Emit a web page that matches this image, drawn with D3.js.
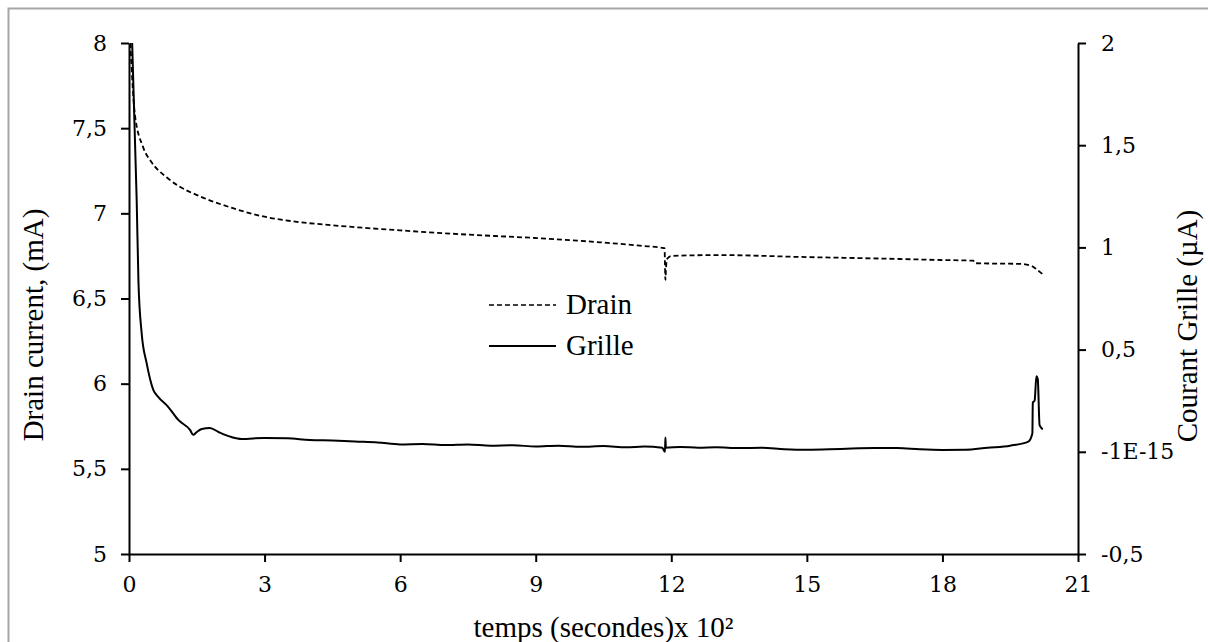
<!DOCTYPE html>
<html><head><meta charset="utf-8">
<script src="https://cdn.jsdelivr.net/npm/d3@7"></script>
<style>body{margin:0;background:#fff}svg{display:block}</style>
</head><body>
<svg id="c" width="1208" height="642"></svg>
<script>
// ---- data ----
const xTicks = [0, 3, 6, 9, 12, 15, 18, 21];
const leftTicks = [5, 5.5, 6, 6.5, 7, 7.5, 8];
const leftTickLabels = ["5", "5,5", "6", "6,5", "7", "7,5", "8"];
const rightTicks = [-0.5, 0, 0.5, 1, 1.5, 2];
const rightTickLabels = ["-0,5", "-1E-15", "0,5", "1", "1,5", "2"];

// Drain current (mA), left axis: [time x10^2 s, value]
const drainT = [0.03, 0.13, 0.31, 0.5, 0.84, 1.1, 1.57, 2.3, 3.0, 3.72, 4.5, 6.0, 7.5, 9.0, 10.42, 11.31, 11.85, 11.87, 11.88, 11.9, 12.0, 13.08, 14.85, 17.06, 17.95, 18.68, 18.72, 19.72, 19.98, 20.09, 20.23];
const drainV = [8.0, 7.58, 7.39, 7.30, 7.21, 7.16, 7.10, 7.03, 6.98, 6.95, 6.93, 6.90, 6.875, 6.855, 6.83, 6.81, 6.795, 6.61, 6.66, 6.73, 6.75, 6.755, 6.744, 6.732, 6.726, 6.722, 6.707, 6.703, 6.69, 6.67, 6.64];

// Courant grille (µA), right axis
const grilleT = [0.07, 0.17, 0.21, 0.28, 0.39, 0.54, 0.65, 0.87, 1.09, 1.35, 1.42, 1.50, 1.61, 1.79, 1.98, 2.27, 2.49, 3.0, 3.5, 4.0, 4.5, 5.0, 5.5, 6.0, 6.5, 7.0, 7.5, 8.0, 8.5, 9.0, 9.5, 10.0, 10.5, 11.0, 11.4, 11.8, 11.86, 11.87, 11.88, 12.2, 12.6, 13.0, 13.5, 14.0, 14.5, 15.0, 15.5, 16.0, 16.5, 17.0, 17.5, 18.0, 18.5, 19.0, 19.5, 19.9, 19.99, 20.0, 20.04, 20.08, 20.11, 20.15, 20.22];
const grilleV = [2.0, 1.232, 0.826, 0.581, 0.434, 0.302, 0.268, 0.219, 0.156, 0.107, 0.083, 0.097, 0.112, 0.117, 0.097, 0.072, 0.063, 0.068, 0.066, 0.058, 0.055, 0.050, 0.046, 0.036, 0.038, 0.033, 0.036, 0.030, 0.032, 0.026, 0.030, 0.025, 0.028, 0.022, 0.026, 0.020, 0.0, 0.07, 0.02, 0.024, 0.020, 0.022, 0.018, 0.020, 0.013, 0.010, 0.012, 0.016, 0.018, 0.018, 0.012, 0.009, 0.010, 0.020, 0.030, 0.050, 0.09, 0.24, 0.25, 0.37, 0.355, 0.13, 0.11];

const legendNames = ["Drain", "Grille"];

// ---- chart ----
const svg = d3.select("#c");
const x0 = 129, x1 = 1078, yTop = 43, yBot = 554;

// frame
svg.append("rect").attr("x", 8.5).attr("y", 8.5).attr("width", 1400).attr("height", 1000)
  .attr("fill", "none").attr("stroke", "#a6a6a6").attr("stroke-width", 2);

const x = d3.scaleLinear().domain([0, 21]).range([x0, x1]);
const yL = d3.scaleLinear().domain([5, 8]).range([yBot, yTop]);
const yR = d3.scaleLinear().domain([-0.5, 2]).range([yBot, yTop]);

const tickFont = "DejaVu Serif";
const titleFont = "Liberation Serif";

function styleAxis(g) {
  g.attr("font-family", tickFont).attr("font-size", 22);
  g.selectAll(".domain").attr("stroke", "#000").attr("stroke-width", 2);
  g.selectAll(".tick line").attr("stroke", "#000").attr("stroke-width", 2);
  g.selectAll("text").style("font-family", tickFont).style("font-size", "22px").attr("fill", "#000");
}

const gx = svg.append("g").attr("transform", `translate(0,${yBot})`)
  .call(d3.axisBottom(x).tickValues(xTicks).tickFormat(d => String(d)).tickSize(8).tickSizeOuter(0).tickPadding(14));
styleAxis(gx);

const gl = svg.append("g").attr("transform", `translate(${x0},0)`)
  .call(d3.axisLeft(yL).tickValues(leftTicks).tickFormat((d, i) => leftTickLabels[i]).tickSize(8).tickSizeOuter(0).tickPadding(14));
styleAxis(gl);

const gr = svg.append("g").attr("transform", `translate(${x1},0)`)
  .call(d3.axisRight(yR).tickValues(rightTicks).tickFormat((d, i) => rightTickLabels[i]).tickSize(8).tickSizeOuter(0).tickPadding(15));
styleAxis(gr);

// lines
const drainData = drainT.map((t, i) => [t, drainV[i]]);
const grilleData = grilleT.map((t, i) => [t, grilleV[i]]);

svg.append("path").datum(drainData)
  .attr("d", d3.line().x(d => x(d[0])).y(d => yL(d[1])).curve(d3.curveMonotoneX))
  .attr("fill", "none").attr("stroke", "#000").attr("stroke-width", 1.8).attr("stroke-dasharray", "5,3");

svg.append("path").datum(grilleData)
  .attr("d", d3.line().x(d => x(d[0])).y(d => yR(d[1])).curve(d3.curveMonotoneX))
  .attr("fill", "none").attr("stroke", "#000").attr("stroke-width", 2);

// titles
svg.append("text").attr("x", (x0 + x1) / 2).attr("y", 637).attr("text-anchor", "middle")
  .style("font-family", titleFont).style("font-size", "29px").text("temps (secondes)x 10²");

svg.append("text").attr("transform", `translate(43,325) rotate(-90)`).attr("text-anchor", "middle")
  .style("font-family", titleFont).style("font-size", "29px").text("Drain current, (mA)");

svg.append("text").attr("transform", `translate(1197,326) rotate(-90)`).attr("text-anchor", "middle")
  .style("font-family", titleFont).style("font-size", "29px").text("Courant Grille (µA)");

// legend
const leg = svg.append("g");
const legY = [305, 346];
legendNames.forEach((name, i) => {
  leg.append("line").attr("x1", 489).attr("x2", 556).attr("y1", legY[i]).attr("y2", legY[i])
    .attr("stroke", "#000").attr("stroke-width", i === 0 ? 1.6 : 2)
    .attr("stroke-dasharray", i === 0 ? "5,3" : null);
  leg.append("text").attr("x", 566).attr("y", legY[i] + 9)
    .style("font-family", titleFont).style("font-size", "29px").text(name);
});
</script>
</body></html>
